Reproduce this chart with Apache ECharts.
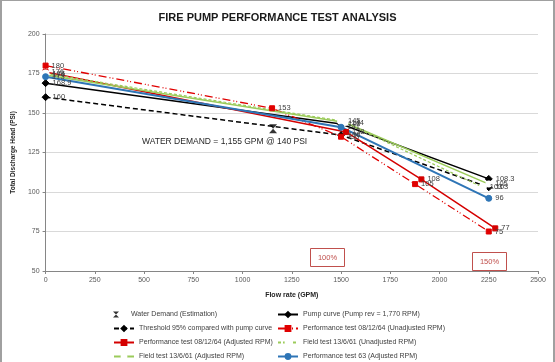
<!DOCTYPE html>
<html>
<head>
<meta charset="utf-8">
<script src="https://cdn.jsdelivr.net/npm/echarts@6/dist/echarts.min.js"></script>
<style>
html,body{margin:0;padding:0;background:#fff;}
#c{width:555px;height:362px;box-sizing:border-box;border-top:1px solid #a0a0a0;border-left:2px solid #a0a0a0;border-right:2px solid #a0a0a0;}
</style>
</head>
<body>
<div id="c"></div>
<script>
// ---- data ----
const xTicks = [0, 250, 500, 750, 1000, 1250, 1500, 1750, 2000, 2250, 2500];
const yTicks = [50, 75, 100, 125, 150, 175, 200];

const demandX = [1155];
const demandY = [140];

const pumpX = [0, 1500, 2250];
const pumpY = [168.9, 143, 108.3];

const thresholdX = [0, 1500, 2250];
const thresholdY = [160, 136, 103];

const perfUnadjX = [0, 1150, 1500, 1876, 2250];
const perfUnadjY = [180, 153, 135, 105, 75];

const perfAdjX = [0, 1525, 1908, 2283];
const perfAdjY = [176, 138, 108, 77];

const fieldUnadjX = [0, 1500, 2220];
const fieldUnadjY = [175, 145, 103];

const fieldAdjX = [0, 1520, 2250];
const fieldAdjY = [174, 144, 105];

const perf63X = [0, 1500, 2250];
const perf63Y = [173, 141, 96];

const names = {
  demand: 'Water Demand (Estimation)',
  pump: 'Pump curve (Pump rev = 1,770 RPM)',
  threshold: 'Threshold 95% compared with pump curve',
  perfUnadj: 'Performance test 08/12/64 (Unadjusted RPM)',
  perfAdj: 'Performance test 08/12/64 (Adjusted RPM)',
  fieldUnadj: 'Field test 13/6/61 (Unadjusted RPM)',
  fieldAdj: 'Field test 13/6/61 (Adjusted RPM)',
  perf63: 'Performance test 63 (Adjusted RPM)'
};

function pts(xs, ys){ return xs.map((x,i)=>[x, ys[i]]); }

const labelStyle = {show:true, position:'right', distance:3, fontSize:7.5, color:'#404040', fontFamily:'Liberation Sans'};

function lineSeries(name, xs, ys, color, type, width, symbol, size, extra){
  return Object.assign({
    name, type:'line', data: pts(xs, ys),
    symbol, symbolSize:size, showAllSymbol:true,
    lineStyle:{color, width, type},
    itemStyle:{color, borderColor:color, borderWidth:1},
    label: labelStyle,
    animation:false
  }, extra||{});
}

const red = '#E00000';
const black = '#000000';
const green = '#9BCB5A';
const blue = '#2E75B6';
const xMark = 'path://M0,0L10,0L0,10L10,10Z';

const series = [
  lineSeries(names.pump, pumpX, pumpY, black, 'solid', 1.5, 'diamond', 7),
  lineSeries(names.threshold, thresholdX, thresholdY, black, [5,3], 1.5, 'diamond', 7),
  lineSeries(names.perfUnadj, perfUnadjX, perfUnadjY, red, [8,3,1,2,1,3], 1.3, 'rect', 5),
  lineSeries(names.perfAdj, perfAdjX, perfAdjY, '#D40000', 'solid', 1.5, 'rect', 5),
  lineSeries(names.fieldUnadj, fieldUnadjX, fieldUnadjY, green, [3,2], 1.2, 'emptyCircle', 6,
    {itemStyle:{color:'#fff', borderColor:green, borderWidth:1.2}}),
  lineSeries(names.fieldAdj, fieldAdjX, fieldAdjY, green, 'solid', 1.5, 'emptyCircle', 5,
    {itemStyle:{color:'#fff', borderColor:green, borderWidth:1.2}}),
  lineSeries(names.perf63, perf63X, perf63Y, blue, 'solid', 2, 'circle', 6),
  {
    name: names.demand, type:'scatter', data: pts(demandX, demandY),
    symbol: xMark, symbolSize:[8,9],
    itemStyle:{color:'#000'}, animation:false, z:5
  }
];

const legendText = {fontSize:7, color:'#404040', fontFamily:'Liberation Sans'};
const legendCols = [
  {left:111, items:[names.demand, names.threshold, names.perfAdj, names.fieldAdj]},
  {left:275, items:[names.pump, names.perfUnadj, names.fieldUnadj, names.perf63]}
];
const rowTops = [310, 324, 338, 352];
const legends = [];
legendCols.forEach(col => col.items.forEach((nm, i) => {
  legends.push({
    orient:'horizontal', left:col.left, top:rowTops[i], padding:0,
    itemWidth:20, itemHeight:6, itemGap:4, textStyle:legendText, data:[nm]
  });
}));

const chart = echarts.init(document.getElementById('c'), null, {renderer:'canvas'});
chart.setOption({
  backgroundColor:'#fff',
  title:{
    text:'FIRE PUMP PERFORMANCE TEST ANALYSIS', left:'center', top:6,
    textStyle:{fontSize:11, fontWeight:'bold', color:'#1a1a1a', fontFamily:'Liberation Sans'}
  },
  grid:{left:37, right:15, top:33, bottom:91},
  xAxis:{
    type:'value', min:xTicks[0], max:xTicks[xTicks.length-1], interval:250,
    name:'Flow rate (GPM)', nameLocation:'middle', nameGap:21,
    nameTextStyle:{fontSize:7, fontWeight:'bold', color:'#262626', fontFamily:'Liberation Sans'},
    axisLine:{show:true, lineStyle:{color:'#868686'}},
    axisTick:{show:true, length:3, lineStyle:{color:'#868686'}},
    axisLabel:{fontSize:7, color:'#595959', margin:6, fontFamily:'Liberation Sans', formatter: v => String(v)},
    splitLine:{show:false}
  },
  yAxis:{
    type:'value', min:yTicks[0], max:yTicks[yTicks.length-1], interval:25,
    name:'Total Discharge Head (PSI)', nameLocation:'middle', nameGap:23,
    nameTextStyle:{fontSize:6.5, fontWeight:'bold', color:'#262626', fontFamily:'Liberation Sans'},
    axisLine:{show:true, lineStyle:{color:'#868686'}},
    axisTick:{show:true, length:3, lineStyle:{color:'#868686'}},
    axisLabel:{fontSize:7, color:'#595959', margin:6, fontFamily:'Liberation Sans', formatter: v => String(v)},
    splitLine:{show:true, lineStyle:{color:'#d9d9d9', width:1}}
  },
  legend: legends,
  graphic:[
    {type:'text', left:140, top:136,
     style:{text:'WATER DEMAND = 1,155 GPM @ 140 PSI', fontSize:8.5, fill:'#262626', fontFamily:'Liberation Sans'}},
    {type:'group', left:308, top:247, children:[
      {type:'rect', shape:{x:0,y:0,width:34,height:18}, style:{fill:'#fff', stroke:'#C0504D', lineWidth:1}},
      {type:'text', x:17, y:9, style:{text:'100%', fontSize:7.5, fill:'#C0504D', align:'center', verticalAlign:'middle', fontFamily:'Liberation Sans'}}
    ]},
    {type:'group', left:470, top:251, children:[
      {type:'rect', shape:{x:0,y:0,width:34,height:18}, style:{fill:'#fff', stroke:'#C0504D', lineWidth:1}},
      {type:'text', x:17, y:9, style:{text:'150%', fontSize:7.5, fill:'#C0504D', align:'center', verticalAlign:'middle', fontFamily:'Liberation Sans'}}
    ]}
  ],
  series
});
</script>
</body>
</html>
